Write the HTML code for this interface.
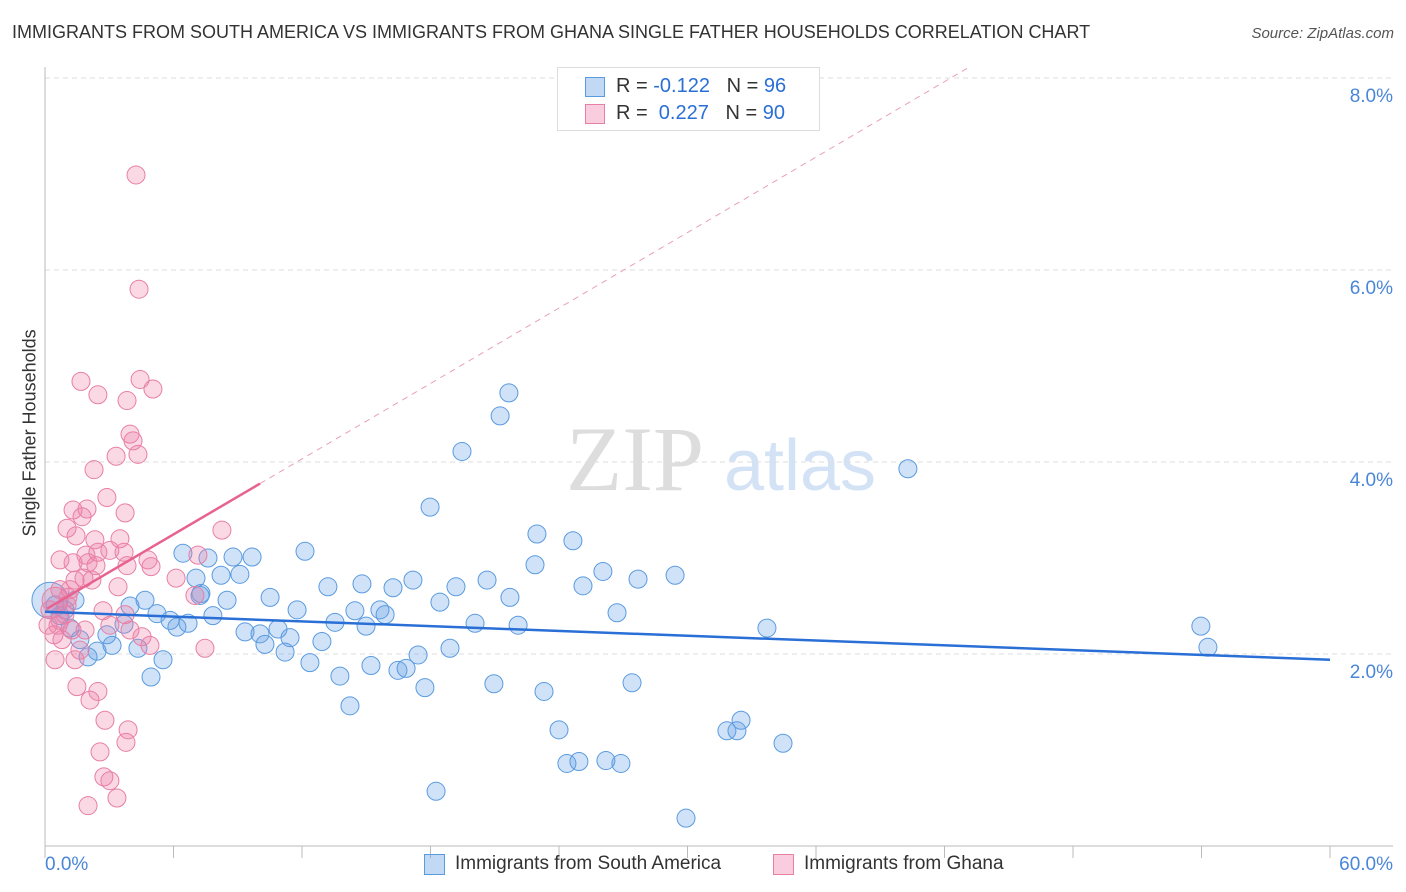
<!DOCTYPE html>
<html><head><meta charset="utf-8">
<style>
body{margin:0;background:#fff;font-family:"Liberation Sans",sans-serif;}
#wrap{position:relative;width:1406px;height:892px;overflow:hidden;}
.t{position:absolute;white-space:nowrap;}
</style></head>
<body>
<div id="wrap">
<div class="t" style="left:12px;top:22px;font-size:18px;color:#333;">IMMIGRANTS FROM SOUTH AMERICA VS IMMIGRANTS FROM GHANA SINGLE FATHER HOUSEHOLDS CORRELATION CHART</div>
<div class="t" style="right:12px;top:25px;font-size:15px;color:#555;font-style:italic;">Source: ZipAtlas.com</div>
<div class="t" style="left:-50px;top:446px;font-size:18px;color:#333;transform:rotate(-90deg);transform-origin:center;width:160px;text-align:center;">Single Father Households</div>
<svg id="plot" width="1406" height="892" style="position:absolute;left:0;top:0"></svg>
<div style="position:absolute;left:557px;top:67px;width:261px;height:62px;border:1px solid #ddd;background:#fff;font-size:20px;">
 <div style="position:absolute;left:27px;top:9px;width:18px;height:18px;background:rgba(100,160,230,.4);border:1px solid #5a9be0;"></div>
 <div class="t" style="left:58px;top:7px;color:#333;">R = <span style="color:#2a6fd6">-0.122</span>&nbsp;&nbsp;&nbsp;N = <span style="color:#2a6fd6">96</span></div>
 <div style="position:absolute;left:27px;top:36px;width:18px;height:18px;background:rgba(240,130,170,.4);border:1px solid #e87fa5;"></div>
 <div class="t" style="left:58px;top:34px;color:#333;">R = &nbsp;<span style="color:#2a6fd6">0.227</span>&nbsp;&nbsp;&nbsp;N = <span style="color:#2a6fd6">90</span></div>
</div>
<div>
 <div style="position:absolute;left:424px;top:854px;width:19px;height:19px;background:rgba(100,160,230,.4);border:1px solid #5a9be0;"></div>
 <div class="t" style="left:455px;top:853px;font-size:19px;color:#333;">Immigrants from South America</div>
 <div style="position:absolute;left:773px;top:854px;width:19px;height:19px;background:rgba(240,130,170,.4);border:1px solid #e87fa5;"></div>
 <div class="t" style="left:804px;top:853px;font-size:19px;color:#333;">Immigrants from Ghana</div>
</div>
</div>
<script>
const yTicks=[2,4,6,8];
const yTickLabels=["2.0%","4.0%","6.0%","8.0%"];
const xEndLabels=["0.0%","60.0%"];
const blueX=[6.44,7.61,8.78,9.67,7.05,8.22,9.10,12.14,3.97,4.67,5.23,5.84,6.16,6.68,7.28,7.84,8.50,9.34,10.04,10.27,10.51,10.88,11.44,11.21,11.77,12.37,12.93,13.21,13.54,13.77,14.24,14.47,14.80,14.99,15.22,15.64,15.88,16.25,16.48,16.86,17.18,17.42,17.74,17.98,18.44,18.91,19.19,19.47,20.08,20.64,20.96,21.25,21.66,21.71,22.09,22.88,22.97,23.30,24.00,24.37,24.65,24.93,25.12,26.05,26.19,26.71,26.89,27.41,27.69,29.42,29.93,31.84,32.31,32.50,34.46,33.71,40.29,53.97,54.30,18.26,4.95,5.51,4.34,3.13,2.43,2.01,2.89,3.69,1.63,1.17,0.70,0.47,0.23,0.93,1.40,7.24];
const blueY=[3.05,3.00,3.01,3.01,2.79,2.82,2.83,3.07,2.50,2.56,2.42,2.35,2.28,2.32,2.63,2.40,2.56,2.23,2.21,2.10,2.59,2.26,2.17,2.02,2.46,1.91,2.13,2.70,2.33,1.77,1.46,2.45,2.73,2.29,1.88,2.46,2.41,2.69,1.83,1.85,2.77,1.99,1.65,3.53,2.54,2.06,2.70,4.11,2.32,2.77,1.69,4.48,4.72,2.59,2.30,2.93,3.25,1.61,1.21,0.86,3.18,0.88,2.71,2.86,0.89,2.43,0.86,1.70,2.78,2.82,0.29,1.20,1.20,1.31,1.07,2.27,3.93,2.29,2.07,0.57,1.76,1.94,2.06,2.09,2.03,1.97,2.20,2.31,2.15,2.27,2.40,2.51,2.56,2.46,2.56,2.61];
const pinkX=[4.25,4.39,1.68,4.44,5.04,2.47,3.83,3.97,4.11,3.32,4.34,2.29,2.89,1.31,1.96,3.74,1.73,1.03,8.26,1.45,3.50,2.33,0.70,1.91,2.47,3.03,3.69,4.81,4.95,3.83,2.01,1.31,2.38,1.82,1.40,2.19,3.41,6.12,7.14,2.71,1.07,1.03,7.47,3.74,4.53,4.90,0.70,1.63,1.40,0.47,1.49,2.47,2.10,2.80,3.88,2.57,3.78,2.75,3.03,2.01,3.36,0.42,0.23,0.61,0.79,1.26,0.93,0.47,0.14,1.87,3.03,3.97,7.00,1.17,0.70];
const pinkY=[6.99,5.80,4.84,4.86,4.76,4.70,4.64,4.29,4.22,4.06,4.08,3.92,3.63,3.50,3.51,3.47,3.43,3.31,3.29,3.23,3.20,3.19,2.98,3.03,3.06,3.08,3.06,2.98,2.91,2.92,2.95,2.95,2.92,2.79,2.77,2.77,2.70,2.79,3.03,2.45,2.59,2.51,2.06,2.41,2.18,2.09,2.35,2.04,1.94,1.94,1.66,1.61,1.52,1.31,1.21,0.98,1.08,0.72,0.68,0.42,0.50,2.20,2.46,2.30,2.15,2.25,2.41,2.56,2.30,2.25,2.30,2.25,2.61,2.67,2.67];
const blueTrend=[2.44,-0.00833];
const pinkTrend=[2.46,0.131];
const pinkSolidEnd=10.04;

const NS="http://www.w3.org/2000/svg";
const svg=document.getElementById('plot');
const X0=45,X1=1330,Y0=846,PXY=96;
const sx=v=>X0+v*(X1-X0)/60;
const sy=v=>Y0-v*PXY;
function mk(t,a){const e=document.createElementNS(NS,t);for(const k in a)e.setAttribute(k,a[k]);svg.appendChild(e);return e;}
function txt(x,y,s,anchor,size,col){const e=mk('text',{x:x,y:y,'text-anchor':anchor,'font-size':size,fill:col,'font-family':'Liberation Sans, sans-serif'});e.textContent=s;return e;}
// watermark
let w=txt(635,490,'ZIP','middle',92,'#ddd');w.setAttribute('font-family','Liberation Serif, serif');

w=txt(800,490,'atlas','middle',72,'#d3e2f5');

// grid
yTicks.forEach((t,i)=>{
 const g=mk('line',{x1:X0,x2:1393,y1:sy(t),y2:sy(t),stroke:'#ddd','stroke-dasharray':'5,4'});
 
 const l=txt(1393,sy(t)+24,yTickLabels[i],'end',19,'#4a86d8');
 
});
let ax=mk('line',{x1:X0,x2:X0,y1:67,y2:Y0,stroke:'#bbb'});

ax=mk('line',{x1:X0,x2:1393,y1:Y0,y2:Y0,stroke:'#bbb'});

for(let i=0;i<=10;i++){const tk=mk('line',{x1:sx(i*6),x2:sx(i*6),y1:Y0,y2:Y0+12,stroke:'#bbb'});
 }
let xl=txt(45,870,xEndLabels[0],'start',19,'#4a86d8');

xl=txt(1393,870,xEndLabels[1],'end',19,'#4a86d8');

// points
function pts(xs,ys,fill,stroke,name,bigIdx,bigR){
 xs.forEach((x,i)=>{const r=(i===bigIdx)?bigR:9;
  const c=mk('circle',{cx:sx(x),cy:sy(ys[i]),r:r,fill:fill,stroke:stroke,'stroke-width':1});
  });
}
pts(blueX,blueY,'rgba(100,160,230,0.3)','#5a9be0','point-south-america',92,18);
pts(pinkX,pinkY,'rgba(240,130,170,0.3)','#e87fa5','point-ghana',67,13);
// trends
let tl=mk('line',{x1:sx(0),y1:sy(blueTrend[0]),x2:sx(60),y2:sy(blueTrend[0]+blueTrend[1]*60),stroke:'#2a6fd6','stroke-width':2.5});

const xTop=(8.1-pinkTrend[0])/pinkTrend[1];
tl=mk('line',{x1:sx(pinkSolidEnd),y1:sy(pinkTrend[0]+pinkTrend[1]*pinkSolidEnd),x2:sx(xTop),y2:sy(8.1),stroke:'#e8a0b8','stroke-width':1,'stroke-dasharray':'6,5'});

tl=mk('line',{x1:sx(0.1),y1:sy(pinkTrend[0]+pinkTrend[1]*0.1),x2:sx(pinkSolidEnd),y2:sy(pinkTrend[0]+pinkTrend[1]*pinkSolidEnd),stroke:'#e8628f','stroke-width':2.5});

</script>
</body></html>
